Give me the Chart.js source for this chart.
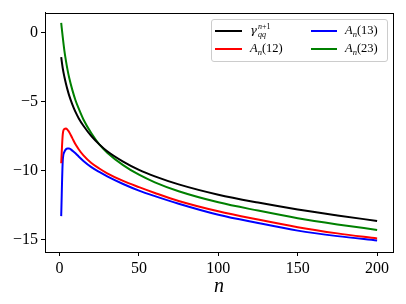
<!DOCTYPE html>
<html>
<head>
<meta charset="utf-8">
<script src="https://cdn.jsdelivr.net/npm/chart.js@4.4.1/dist/chart.umd.min.js"></script>
<style>
  body { margin: 0; background: #fff; }
  #wrap { position: relative; width: 406px; height: 304px; }
  #legend {
    position: absolute; left: 211px; top: 19px; width: 175px; height: 41px;
    border: 1px solid #ccc; border-radius: 3px; background: rgba(255,255,255,0.8);
    font-family: "Liberation Serif", serif; font-size: 12.5px; color: #000;
  }
  .item { position: absolute; display: flex; align-items: center; height: 18px; white-space: nowrap; }
  .sw { height: 2px; margin-right: 8px; }
  .gam { font-family: "DejaVu Serif", serif; font-size: 11.5px; }
  .ss { display: inline-flex; flex-direction: column; font-size: 8px; line-height: 8px; vertical-align: middle; margin-left: 1px; }
  sub { font-size: 8.5px; vertical-align: -3px; }
</style>
</head>
<body>
<div id="wrap">
  <canvas id="gammaChart" width="406" height="304"></canvas>
  <div id="legend">
    <div class="item" style="left:3px; top:2px;"><span class="sw" style="width:27px; background:#000;"></span><span><i class="gam">γ</i><span class="ss"><span><i>n</i>+1</span><span><i>qq</i></span></span></span></div>
    <div class="item" style="left:3px; top:20px;"><span class="sw" style="width:27px; background:#ff0000;"></span><span><i>A</i><sub><i>n</i></sub>(12)</span></div>
    <div class="item" style="left:99px; top:2px;"><span class="sw" style="width:26px; background:#0000ff;"></span><span><i>A</i><sub><i>n</i></sub>(13)</span></div>
    <div class="item" style="left:99px; top:20px;"><span class="sw" style="width:26px; background:#008000;"></span><span><i>A</i><sub><i>n</i></sub>(23)</span></div>
  </div>
</div>
<script>
const nValues = [1, 2, 3, 4, 5, 6, 8, 10, 12, 15, 20, 25, 30, 40, 50, 60, 75, 100, 125, 150, 175, 200];

const gammaQQ = [-1.78, -2.6, -3.2, -3.7, -4.15, -4.55, -5.2, -5.75, -6.2, -6.75, -7.5, -8.1, -8.6, -9.35, -9.95, -10.42, -11.0, -11.75, -12.32, -12.82, -13.25, -13.65];
const an12 = [-9.47, -7.35, -6.98, -6.95, -7.05, -7.2, -7.65, -8.1, -8.45, -8.9, -9.45, -9.85, -10.2, -10.75, -11.2, -11.62, -12.2, -12.95, -13.55, -14.1, -14.55, -14.92];
const an13 = [-13.3, -9.25, -8.65, -8.45, -8.4, -8.4, -8.55, -8.75, -8.98, -9.3, -9.75, -10.1, -10.42, -10.97, -11.45, -11.85, -12.4, -13.2, -13.8, -14.35, -14.75, -15.07];
const an23 = [0.7, -0.35, -1.3, -2.05, -2.7, -3.25, -4.15, -4.9, -5.5, -6.3, -7.3, -8.1, -8.7, -9.6, -10.3, -10.85, -11.5, -12.3, -12.9, -13.45, -13.9, -14.3];

const xTicks = [0, 50, 100, 150, 200];
const yTicks = [-15, -10, -5, 0];

const toPoints = (ys) => nValues.map((n, i) => ({ x: n, y: ys[i] }));

const line = (label, ys, color) => ({
  label: label,
  data: toPoints(ys),
  borderColor: color,
  borderWidth: 2,
  pointRadius: 0,
  fill: false,
  cubicInterpolationMode: 'monotone'
});

const data = {
  datasets: [
    line('gamma_qq^(n+1)', gammaQQ, '#000000'),
    line('A_n(12)', an12, '#ff0000'),
    line('A_n(13)', an13, '#0000ff'),
    line('A_n(23)', an23, '#008000')
  ]
};

const tickFont = { family: 'Liberation Serif', size: 16 };
const fmt = (v) => (v < 0 ? '\u2212' + Math.abs(v) : '' + v);

// matplotlib-style box around the plot area
const frame = {
  id: 'frame',
  afterDraw(chart) {
    const a = chart.chartArea;
    const c = chart.ctx;
    c.save();
    c.strokeStyle = '#000';
    c.lineWidth = 1;
    c.strokeRect(Math.round(a.left) + 0.5, Math.round(a.top) + 0.5, Math.round(a.right - a.left), Math.round(a.bottom - a.top));
    c.restore();
  }
};

const config = {
  type: 'line',
  data: data,
  options: {
    responsive: false,
    animation: false,
    layout: { padding: { left: 0, right: 13, top: 12, bottom: 0 } },
    plugins: { legend: { display: false }, tooltip: { enabled: false } },
    scales: {
      x: {
        type: 'linear',
        min: -9.2,
        max: 210,
        afterBuildTicks: (s) => { s.ticks = xTicks.map(v => ({ value: v })); },
        afterFit: (s) => { s.height = 52; },
        ticks: { font: tickFont, color: '#000', padding: 3, maxRotation: 0, callback: fmt },
        grid: { drawOnChartArea: false, drawTicks: true, tickLength: 4, color: '#000' },
        border: { display: true, color: '#000' },
        title: { display: true, text: 'n', color: '#000', font: { family: 'Liberation Serif', style: 'italic', size: 20 }, padding: { top: 0, bottom: 5 } }
      },
      y: {
        type: 'linear',
        min: -15.9,
        max: 1.45,
        afterBuildTicks: (s) => { s.ticks = yTicks.map(v => ({ value: v })); },
        afterFit: (s) => { s.width = 45; },
        ticks: { font: tickFont, color: '#000', padding: 3, callback: fmt },
        grid: { drawOnChartArea: false, drawTicks: true, tickLength: 4, color: '#000' },
        border: { display: true, color: '#000' }
      }
    }
  },
  plugins: [frame]
};

const ctx = document.getElementById('gammaChart');
new Chart(ctx, config);
</script>
</body>
</html>
